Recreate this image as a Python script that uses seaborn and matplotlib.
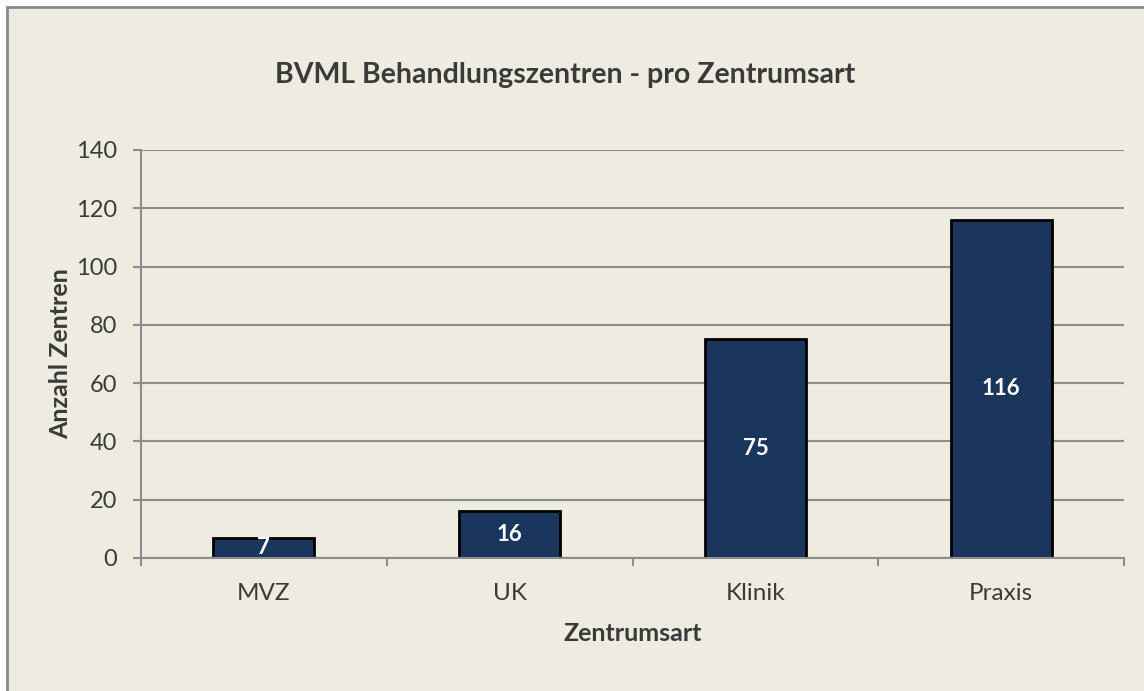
import matplotlib
matplotlib.use('Agg')
import matplotlib.pyplot as plt
import matplotlib.patches as mpatches
import seaborn as sns
import pandas as pd

zentrumsart = ['MVZ', 'UK', 'Klinik', 'Praxis']
anzahl = [7, 16, 75, 116]
y_ticks = [0, 20, 40, 60, 80, 100, 120, 140]

bg = '#EEEBE0'
bar_color = '#1A365D'
grid_color = '#8C8C8C'
text_color = '#3A3A3A'

sns.set_theme(style='white')
plt.rcParams['font.family'] = ['Lato', 'DejaVu Sans']

df = pd.DataFrame({'Zentrumsart': zentrumsart, 'Anzahl': anzahl})

fig = plt.figure(figsize=(11.44, 6.91), dpi=100, facecolor='white')
# outer frame of the chart area
frame = mpatches.Rectangle((7 / 1144, -0.05), 1.2, 1 - 7 / 691 + 0.05,
                           transform=fig.transFigure, facecolor=bg,
                           edgecolor='#8A8A8A', linewidth=2, zorder=-10)
fig.patches.append(frame)

ax = fig.add_axes([141 / 1144, 1 - 558 / 691, (1124 - 141) / 1144, (558 - 150) / 691])
ax.set_facecolor(bg)

sns.barplot(data=df, x='Zentrumsart', y='Anzahl', color=bar_color, width=0.41,
            edgecolor='black', linewidth=2, saturation=1, ax=ax, zorder=3)

ax.set_ylim(0, 140)
ax.set_xlim(-0.5, 3.5)
ax.set_yticks(y_ticks)
ax.yaxis.grid(True, color=grid_color, linewidth=1.5, zorder=0)
ax.set_axisbelow(True)

for s in ['top', 'right']:
    ax.spines[s].set_visible(False)
for s in ['left', 'bottom']:
    ax.spines[s].set_color(grid_color)
    ax.spines[s].set_linewidth(1.5)
    ax.spines[s].set_zorder(4)

# tick marks between categories on the x axis
ax.set_xticks([-0.5, 0.5, 1.5, 2.5, 3.5], minor=True)
ax.tick_params(axis='x', which='minor', length=6, width=1.5, color=grid_color, direction='out', bottom=True)
ax.tick_params(axis='x', which='major', length=0, labelsize=17.5, labelcolor=text_color, pad=18)
ax.tick_params(axis='y', length=6, width=1.5, color=grid_color, direction='out', left=True,
               labelsize=17, labelcolor=text_color, pad=11)

for i, v in enumerate(anzahl):
    ax.text(i, v / 2, str(v), ha='center', va='center', color='white',
            fontsize=16, fontweight='bold', zorder=5)

ax.set_xlabel('Zentrumsart', fontsize=18, fontweight='bold', color=text_color, labelpad=13)
ax.set_ylabel('Anzahl Zentren', fontsize=18, fontweight='bold', color=text_color, labelpad=3)

fig.text(565 / 1144, 1 - 75 / 691, 'BVML Behandlungszentren - pro Zentrumsart',
         ha='center', va='center', fontsize=20.5, fontweight='bold', color=text_color)

fig.savefig('out.png', dpi=100, facecolor='white')
